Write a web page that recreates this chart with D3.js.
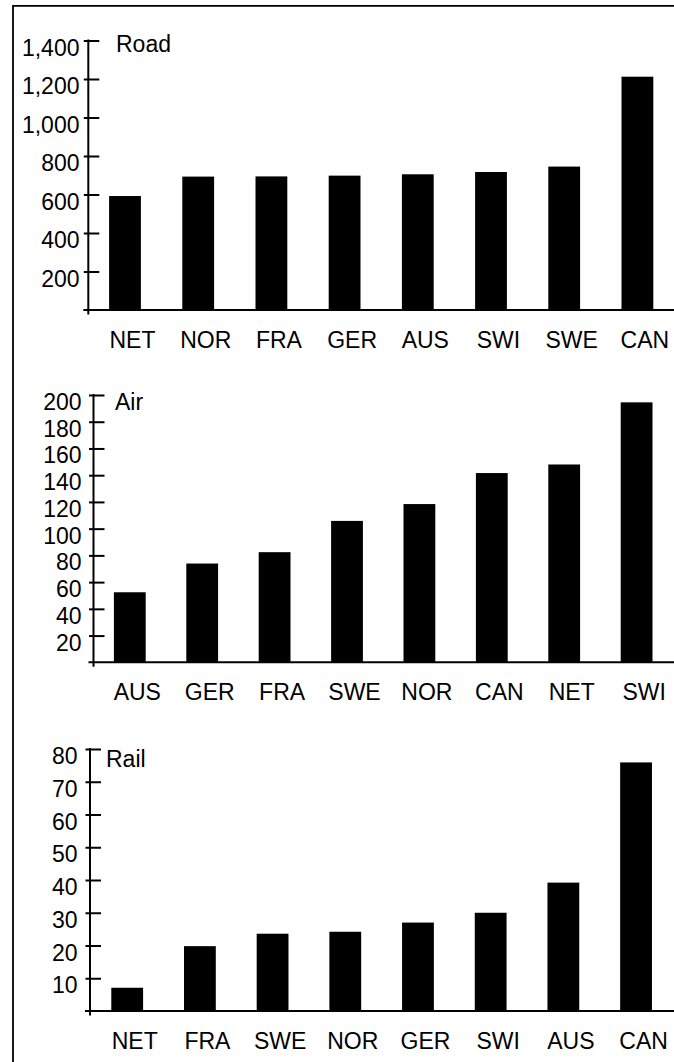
<!DOCTYPE html>
<html>
<head>
<meta charset="utf-8">
<script src="https://cdn.jsdelivr.net/npm/d3@7"></script>
<style>
  html, body { margin: 0; padding: 0; background: #fff; }
  svg { display: block; }
  text { font-family: "Liberation Sans", Arial, Helvetica, sans-serif; fill: #000; }
</style>
</head>
<body>
<svg id="chart" width="674" height="1062"></svg>
<script>
// ---- Data ----
const roadCategories = ["NET", "NOR", "FRA", "GER", "AUS", "SWI", "SWE", "CAN"];
const roadValues     = [592, 693, 694, 698, 705, 717, 745, 1212];
const roadTicks      = [200, 400, 600, 800, 1000, 1200, 1400];

const airCategories  = ["AUS", "GER", "FRA", "SWE", "NOR", "CAN", "NET", "SWI"];
const airValues      = [52.4, 73.9, 82.4, 105.8, 118.4, 141.6, 148, 194.5];
const airTicks       = [20, 40, 60, 80, 100, 120, 140, 160, 180, 200];

const railCategories = ["NET", "FRA", "SWE", "NOR", "GER", "SWI", "AUS", "CAN"];
const railValues     = [7.1, 19.8, 23.6, 24.2, 27.0, 30.0, 39.2, 75.9];
const railTicks      = [10, 20, 30, 40, 50, 60, 70, 80];

// ---- Layout ----
const W = 674;
const svg = d3.select("#chart");

// frame (left and top edges visible)
svg.append("path")
  .attr("d", "M13,1062 L13,5.8 L674,5.8")
  .attr("fill", "none").attr("stroke", "#000").attr("stroke-width", 1.8);

const panels = [
  { title: "Road", cats: roadCategories, vals: roadValues, ticks: roadTicks, max: 1400,
    fmt: d3.format(","), axisX: 88.3, y0: 310, yTop: 40.5, xStart: 88.4, xEnd: 674,
    labelRight: 79.5, titleX: 116, titleY: 52.3 },
  { title: "Air", cats: airCategories, vals: airValues, ticks: airTicks, max: 200,
    fmt: d3.format("d"), axisX: 93.5, y0: 662.3, yTop: 395, xStart: 93.6, xEnd: 672.8,
    labelRight: 81.5, titleX: 115, titleY: 410 },
  { title: "Rail", cats: railCategories, vals: railValues, ticks: railTicks, max: 80,
    fmt: d3.format("d"), axisX: 90, y0: 1011, yTop: 749, xStart: 90.85, xEnd: 672.4,
    labelRight: 77.5, titleX: 106, titleY: 767.3 }
];

const fontSize = 23;
const barWidth = 31.8;

panels.forEach(p => {
  const g = svg.append("g");
  const y = d3.scaleLinear().domain([0, p.max]).range([p.y0, p.yTop]);
  const step = (p.xEnd - p.xStart) / p.cats.length;
  const pin = 1 - barWidth / step;
  const x = d3.scaleBand().domain(p.cats).range([p.xStart, p.xEnd])
    .paddingInner(pin).paddingOuter(pin / 2);

  // bars
  g.selectAll("rect.bar").data(p.cats.map((c, i) => ({ c, v: p.vals[i] })))
    .enter().append("rect")
    .attr("class", "bar")
    .attr("x", d => x(d.c))
    .attr("width", x.bandwidth())
    .attr("y", d => y(d.v))
    .attr("height", d => p.y0 - y(d.v))
    .attr("fill", "#000");

  // baseline
  g.append("line")
    .attr("x1", p.axisX - 5).attr("x2", W)
    .attr("y1", p.y0).attr("y2", p.y0)
    .attr("stroke", "#000").attr("stroke-width", 2);

  // y axis
  const yAxis = d3.axisLeft(y).tickValues(p.ticks).tickFormat(p.fmt);
  const ya = g.append("g").attr("transform", `translate(${p.axisX},0)`).call(yAxis);
  ya.select(".domain").remove();
  ya.selectAll(".tick line")
    .attr("x1", -4.5).attr("x2", 11)
    .attr("stroke", "#000").attr("stroke-width", 2);
  ya.selectAll(".tick text")
    .attr("x", p.labelRight - p.axisX)
    .attr("dy", 0).attr("y", 14.5)
    .attr("text-anchor", "end")
    .style("font-size", fontSize + "px")
    .style("font-family", '"Liberation Sans", Arial, sans-serif')
    .attr("fill", "#000");
  g.append("line")
    .attr("x1", p.axisX).attr("x2", p.axisX)
    .attr("y1", p.yTop - 1).attr("y2", p.y0 + 4.5)
    .attr("stroke", "#000").attr("stroke-width", 2);

  // x axis labels
  const xAxis = d3.axisBottom(x).tickSize(0);
  const xa = g.append("g").attr("transform", `translate(0,${p.y0})`).call(xAxis);
  xa.select(".domain").remove();
  xa.selectAll(".tick text")
    .attr("y", 37.5).attr("dy", 0).attr("x", 7.5)
    .style("font-size", fontSize + "px")
    .style("font-family", '"Liberation Sans", Arial, sans-serif')
    .attr("fill", "#000");

  // title
  g.append("text")
    .attr("x", p.titleX).attr("y", p.titleY)
    .style("font-size", fontSize + "px")
    .text(p.title);
});
</script>
</body>
</html>
